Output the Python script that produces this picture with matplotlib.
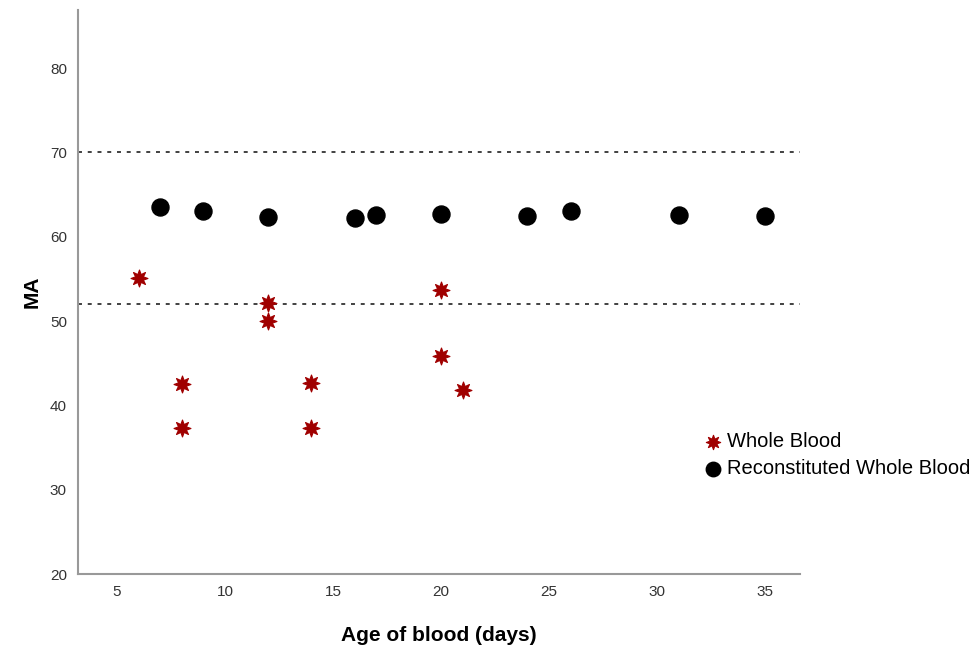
import matplotlib
matplotlib.use("Agg")
import matplotlib.pyplot as plt

plt.rcParams['font.family'] = ['Liberation Sans', 'DejaVu Sans']

wb_age = [6, 8, 8, 12, 12, 14, 14, 20, 20, 21]
wb_ma = [55.1, 42.5, 37.3, 52.1, 50.0, 42.7, 37.3, 53.7, 45.9, 41.8]
rwb_age = [7, 9, 12, 16, 17, 20, 24, 26, 31, 35]
rwb_ma = [63.5, 63.1, 62.3, 62.2, 62.6, 62.7, 62.5, 63.1, 62.6, 62.5]
ref_lines = [70, 52]
xticks = [5, 10, 15, 20, 25, 30, 35]
yticks = [20, 30, 40, 50, 60, 70, 80]

fig = plt.figure(figsize=(9.8, 6.54), dpi=100)
ax = fig.add_axes([0.0796, 0.1223, 0.7364, 0.8627])

for y in ref_lines:
    ax.axhline(y, color='#333333', linestyle=(0, (2.2, 3.2)), linewidth=1.3, zorder=1)

h1 = ax.scatter(wb_age, wb_ma, marker=(8, 1, 0), s=150, color='#a00000',
                edgecolors='#a00000', linewidths=0.8, zorder=3, label='Whole Blood')
h2 = ax.scatter(rwb_age, rwb_ma, marker='o', s=150, color='black', zorder=3,
                label='Reconstituted Whole Blood')

ax.set_xlim(3.2, 36.6)
ax.set_ylim(20, 86.9)
ax.set_xticks(xticks)
ax.set_yticks(yticks)
ax.tick_params(length=0, labelsize=11, colors='#333333', pad=8)
for s in ['top', 'right']:
    ax.spines[s].set_visible(False)
for s in ['left', 'bottom']:
    ax.spines[s].set_color('#999999')
    ax.spines[s].set_linewidth(1.5)

ax.set_xlabel('Age of blood (days)', fontsize=15, fontweight='bold', labelpad=19)
ax.set_ylabel('MA', fontsize=15, fontweight='bold', labelpad=6)

fig.legend(handles=[h1, h2], loc='upper left', bbox_to_anchor=(0.697, 0.355),
           frameon=False, fontsize=14.5, handletextpad=-0.3, labelspacing=0.42,
           borderpad=0, markerscale=0.85)

fig.savefig('out.png', dpi=100)
